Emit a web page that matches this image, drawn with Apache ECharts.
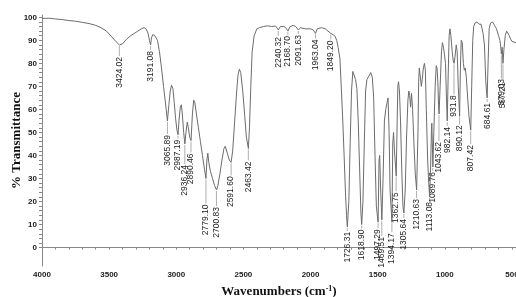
<!DOCTYPE html>
<html>
<head>
<meta charset="utf-8">
<script src="https://cdn.jsdelivr.net/npm/echarts@6/dist/echarts.min.js"></script>
<style>html,body{margin:0;padding:0;background:#fff}#c{width:516px;height:297px}</style>
</head>
<body>
<div id="c"></div>
<script>
// ---- DATA ----
const wavenumbers = [4000,3950,3900,3850,3800,3750,3700,3650,3600,3560,3520,3480,3450,3424,3400,3370,3340,3300,3260,3240,3225,3210,3200,3191,3185,3175,3160,3140,3125,3110,3095,3085,3075,3066,3055,3045,3035,3025,3015,3005,2995,2987,2980,2970,2962,2955,2945,2936,2928,2918,2910,2900,2890,2880,2870,2862,2850,2835,2820,2805,2790,2779,2772,2765,2758,2745,2730,2715,2700,2690,2675,2660,2645,2635,2620,2605,2592,2580,2565,2550,2540,2530,2520,2505,2490,2478,2463,2455,2445,2435,2420,2400,2380,2350,2320,2290,2260,2240,2225,2200,2185,2168,2155,2130,2110,2091,2075,2040,2000,1980,1963,1950,1920,1890,1870,1849,1835,1820,1805,1795,1781,1770,1760,1750,1740,1732,1726,1715,1705,1695,1685,1675,1665,1655,1645,1635,1625,1619,1610,1600,1590,1580,1570,1560,1552,1540,1530,1520,1510,1497,1490,1485,1478,1469,1460,1450,1440,1430,1423,1415,1408,1394,1388,1382,1375,1362,1355,1350,1345,1338,1330,1320,1312,1305,1295,1285,1275,1268,1262,1255,1248,1240,1230,1220,1210,1200,1195,1190,1182,1175,1168,1160,1152,1145,1138,1128,1120,1113,1106,1100,1097,1093,1089,1082,1072,1064,1058,1052,1047,1043,1035,1025,1018,1010,1003,995,988,982,975,968,962,955,945,937,931,924,915,908,900,890,884,878,870,862,855,848,840,830,820,807,800,792,785,775,760,745,730,715,705,695,685,678,670,660,645,630,615,600,590,585,579,573,567,560,550,540,530,520,510,500,490,470];
const transmittance = [99.5,99.6,99.3,99,98.6,98.3,97.8,97.3,96.5,95.5,94,91.5,89.5,88,88.5,90.5,92,93.5,95,95.5,95,93,90,88,91,92.5,92,90,85,78,70,65,60,55,62,68,70.5,69,63,56,51,49,55,61,62,58,50,45,50,54.5,52,48,46.5,58,64,63,58,52,46,40,34,30,38,41,37,33,30,27,25,27,32,38,43,44,41,38,37,42,55,68,75,77.5,76,68,57,48,43,52,70,85,92,95,95.5,96,96.3,96,96.2,94.5,96,96,95.5,94,95.8,96.5,96,94.5,95.5,95,95,94.5,93,95,95.5,95,94,93,93.5,92,90,87,82,68,55,40,24,14,9,20,45,68,76.5,77,73,69,55,35,15,10,20,45,68,73,72.5,75,76,74,65,40,18,11,38,40,25,12,30,55,60,63,65,50,25,11,45,50,42,31,55,70,72,68,55,32,18,15,25,48,64,68,66,61,67,60,45,32,25,50,72,78,74,70,73,78,80,77,60,38,28,22,35,50,54,45,35,50,70,79,78,72,62,58,70,85,89,87,84,80,65,55,75,92,95,92,85,81,80,83,88,85,70,57,78,90,89,80,77,78,74,65,57,51,70,90,96,97.5,98,97,97,93,88,72,65,80,95,97.5,98,96.5,95,92,90,88,84,87,80,86,92,94,93.5,92,90.5,89.5,89,89];
const peakLabels = ["3424.02","3191.08","3065.89","2987.19","2936.24","2890.46","2779.10","2700.83","2591.60","2463.42","2240.32","2168.70","2091.63","1963.04","1849.20","1726.31","1618.90","1497.29","1469.51","1394.17","1362.75","1305.64","1210.63","1113.08","1089.76","1043.62","982.14","931.8","890.12","807.42","684.61","579.03","567.21"];
const peakWn = [3424.02,3191.08,3065.89,2987.19,2936.24,2890.46,2779.10,2700.83,2591.60,2463.42,2240.32,2168.70,2091.63,1963.04,1849.20,1726.31,1618.90,1497.29,1469.51,1394.17,1362.75,1305.64,1210.63,1113.08,1089.76,1043.62,982.14,931.8,890.12,807.42,684.61,579.03,567.21];
const peakT = [88,88,55,49,45,46.5,30,25,37,43,94.5,94,94.5,93,93,9,10,11,12,11,31,15,25,22,35,58,55,80,57,51,65,84,80];
const xTickLabels = [4000,3500,3000,2500,2000,1500,1000,500];
const yTickLabels = [0,10,20,30,40,50,60,70,80,90,100];

// ---- STYLE / LAYOUT ----
const labelDrop = [10,4,12,3,19,11,24,15,12,11,5,3,3,4,5,3,3,5,15,9,14,4,7,3,3,26,4,30,7,13,3,23,17];
const xMinor = []; for (let v = 500; v <= 4000; v += 100) xMinor.push(v);
const yMinor = []; for (let v = 0; v <= 100; v += 2) yMinor.push(v);

const chart = echarts.init(document.getElementById('c'));
chart.setOption({
  animation: false,
  backgroundColor: '#fff',
  grid: { left: 42, right: 0, top: 15, bottom: 31, containLabel: false, outerBoundsMode: 'none' },
  xAxis: {
    type: 'value', inverse: true, min: 470, max: 4000,
    name: 'Wavenumbers (cm{sup|-1})', nameLocation: 'middle', nameGap: 19, nameMoveOverlap: false,
    nameTextStyle: { fontFamily: '"Liberation Serif","Times New Roman",serif', fontWeight: 'bold', fontSize: 13, color: '#111',
      rich: { sup: { fontFamily: '"Liberation Serif",serif', fontWeight: 'bold', fontSize: 8, color: '#111', verticalAlign: 'top', padding: [0,0,6,0] } } },
    axisLine: { lineStyle: { color: '#888', width: 1 } },
    axisTick: { show: true, customValues: xMinor, length: 2, lineStyle: { color: '#888' } },
    axisLabel: { customValues: xTickLabels, formatter: v => String(v), fontSize: 8, fontWeight: 'bold', color: '#222', margin: 5, fontFamily: '"Liberation Sans",Arial,sans-serif' },
    splitLine: { show: false }
  },
  yAxis: {
    type: 'value', min: -8, max: 101,
    name: '% Transmittance', nameLocation: 'middle', nameGap: 19, nameMoveOverlap: false,
    nameTextStyle: { fontFamily: '"Liberation Serif","Times New Roman",serif', fontWeight: 'bold', fontSize: 13, color: '#111' },
    axisLine: { show: true, lineStyle: { color: '#888', width: 1 } },
    axisTick: { show: true, customValues: yMinor, length: 3, lineStyle: { color: '#888' } },
    axisLabel: { customValues: yTickLabels, formatter: v => String(v), fontSize: 8, fontWeight: 'bold', color: '#222', margin: 5, fontFamily: '"Liberation Sans",Arial,sans-serif' },
    splitLine: { show: false }
  },
  series: [
    {
      type: 'line', symbol: 'none', silent: true,
      data: wavenumbers.map((w, i) => [w, transmittance[i]]),
      lineStyle: { color: '#6c6c6c', width: 1 }
    },
    {
      type: 'custom', clip: false, silent: true,
      data: peakWn.map((w, i) => [w, peakT[i]]),
      encode: { x: 0, y: 1 },
      renderItem: function (params, api) {
        const i = params.dataIndex;
        const p = api.coord([api.value(0), api.value(1)]);
        const d = labelDrop[i];
        return {
          type: 'group',
          children: [
            { type: 'line', shape: { x1: p[0], y1: p[1] + 1, x2: p[0], y2: p[1] + d + 1 }, style: { stroke: '#999', lineWidth: 0.8 } },
            { type: 'text', x: p[0], y: p[1] + d + 2, rotation: Math.PI / 2,
              style: { text: peakLabels[i], align: 'right', verticalAlign: 'middle', font: '8.5px "Liberation Sans", Arial, sans-serif', fill: '#222' } }
          ]
        };
      }
    }
  ]
});
</script>
</body>
</html>
